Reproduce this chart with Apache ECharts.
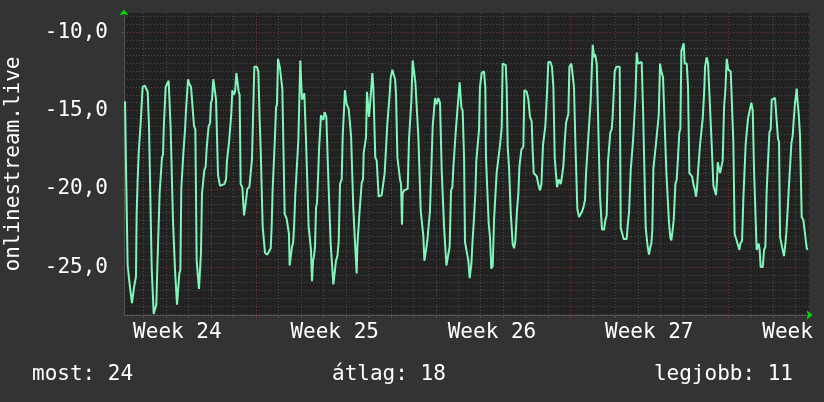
<!DOCTYPE html>
<html>
<head>
<meta charset="utf-8">
<script src="https://cdn.jsdelivr.net/npm/echarts@6/dist/echarts.min.js"></script>
<style>
html, body { margin: 0; background: #333333; }
#chart { width: 824px; height: 402px; }
</style>
</head>
<body>
<div id="chart"></div>
<script>
// hours from the left edge of the graph, and the rank at that time
var hours = [
  1.1,2.1,3.2,3.9,5.3,6.4,7.5,8.5,10.0,10.7,11.7,12.8,13.5,14.6,15.7,17.1,17.8,19.2,19.9,22.1,
  23.9,25.3,26.7,27.8,29.6,30.6,31.7,33.5,34.5,35.6,37.0,38.1,39.9,40.6,41.7,42.4,43.4,44.5,46.3,47.7,
  49.1,49.8,51.3,52.3,53.8,54.5,55.5,56.6,58.4,59.1,60.2,61.2,62.3,63.4,65.2,66.2,67.3,68.4,69.8,71.6,
  73.3,74.8,76.2,77.6,78.7,80.1,81.2,82.2,83.3,84.7,85.8,87.2,88.3,89.4,90.4,91.9,92.9,94.0,95.4,97.2,
  98.3,99.3,100.4,101.5,102.5,104.3,107.2,109.0,110.0,111.1,112.2,113.6,114.6,115.7,117.1,118.6,120.0,121.4,122.5,123.5,
  124.6,126.4,128.2,130.0,131.7,133.9,135.3,136.7,138.1,139.2,141.7,143.5,144.9,146.0,148.1,149.5,150.6,153.1,155.2,156.7,
  157.7,158.8,160.2,161.3,162.4,163.4,164.5,166.6,167.7,169.1,170.2,171.6,173.7,174.8,176.2,176.9,178.4,179.4,180.5,181.6,
  183.0,184.8,186.2,187.6,188.3,190.1,191.5,192.6,194.4,195.8,197.2,198.3,199.7,200.8,201.9,202.9,204.0,205.1,206.1,207.2,
  208.3,209.7,210.4,211.8,212.9,214.3,216.1,217.9,219.3,220.7,222.2,223.6,225.4,226.4,227.9,229.3,230.7,232.5,233.6,235.0,
  236.0,237.8,240.0,242.5,
  244.9,246.0,247.1,248.5,249.2,250.3,251.4,252.8,253.9,255.3,256.0,257.4,258.5,259.5,261.0,261.7,263.1,264.2,265.2,266.3,
  267.4,268.4,269.9,270.9,272.0,273.4,275.2,277.0,278.4,279.8,281.3,282.7,283.8,284.8,286.6,288.0,289.5,290.5,292.0,293.4,
  294.8,295.9,296.9,297.6,299.1,300.8,303.0,304.4,305.8,306.9,308.3,310.1,311.2,312.6,314.4,315.8,316.9,318.3,319.7,320.8,
  322.6,324.0,325.4,326.8,328.3,329.7,331.1,332.2,334.0,335.7,337.5,339.3,340.7,341.8,342.9,344.3,346.4,347.8,349.3,350.7,
  351.8,353.2,354.6,355.7,356.7,358.5,360.3,361.7,363.2,364.2,366.0,367.8,369.2,371.0,372.4,373.8,375.3,376.3,378.1,379.2,
  380.2,382.0,384.5,385.9,386.6,388.1,389.5,390.2,390.9,392.3,393.8,395.2,396.6,398.0,399.5,401.6,403.4,404.4,407.7,408.7,
  409.8,411.2,413.0,414.4,415.1,416.6,418.0,419.8,421.2,422.3,423.7,424.4,426.5,427.6,430.1,431.9,433.6,435.4,436.5,437.6,
  439.0,440.8,442.5,444.3,445.8,447.5,449.0,450.0,451.8,453.2,455.4,457.1,458.6,460.0,461.4,462.5,464.3,466.4,467.8,469.3,
  470.7,472.1,473.5,474.6,475.7,477.8,479.2,480.6,482.1,483.1,484.2,486.0,487.0,
  488.8,490.6,492.4,493.5,494.9,495.9,497.4,498.4,499.5,500.6,502.0,503.1,504.9,505.9,507.3,508.4,509.5,510.5,512.7,514.1,
  515.5,516.9,518.4,519.4,520.9,521.9,523.0,524.1,525.9,529.4,530.5,531.9,533.7,536.9,538.0,539.4,541.2,542.6,543.7,545.1,
  546.2,547.6,549.0,551.1,552.9,554.3,555.8,557.2,558.3,559.3,560.7,562.2,563.2,564.3,565.4,567.2,568.2,569.3,571.1,572.5,
  573.6,574.6,575.7,577.5,579.3,580.7,582.1,583.5,584.6,586.0,587.1,588.9,590.3,591.7,593.1,594.2,595.3,596.7,597.8,598.8,
  601.0,602.4,603.8,605.3,606.7,608.1,609.9,610.9,612.0,613.1,615.2,616.6,618.1,619.8,620.6,622.3,623.8,625.5,627.7,628.4,
  629.5,630.9,632.3,633.4,634.1,635.5,636.6,638.0,639.4,640.9,642.3,643.7,645.5,648.0,649.4,650.8,652.2,654.4,655.8,657.2,
  658.3,660.1,661.5,662.9,664.0,665.4,666.5,668.6,670.0,671.5,672.9,674.3,675.7,677.2,677.9,678.9,680.0,682.2,683.6,685.0,
  686.4,687.8,689.3,690.7,691.8,695.3,697.1,698.5,699.6,700.7,702.1,703.5,704.9,706.4,707.4,708.5,709.9,711.3,712.8,714.2,
  715.3,716.7,718.5,719.2,720.6,722.0,723.8,725.6,727.4,729.2,730.2
];
var rank = [
  14.4,18.5,18.6,24.9,25.0,26.3,26.4,27.3,27.3,26.3,26.2,25.6,21.6,19.4,17.7,17.6,15.8,15.7,13.5,13.4,
  13.5,13.8,16.0,16.1,25.1,25.2,28.0,28.0,27.4,25.0,25.0,20.2,20.1,18.0,17.8,16.2,16.1,13.5,13.4,13.1,
  13.1,16.1,16.2,22.0,22.1,25.2,25.3,27.4,27.5,25.4,25.2,20.0,19.9,17.7,16.2,15.0,15.0,13.0,13.3,13.5,
  13.6,16.0,16.2,24.6,24.6,26.4,26.3,24.1,20.3,20.2,18.8,18.6,17.4,17.3,16.0,15.8,14.5,14.3,13.0,13.0,
  14.3,14.4,19.1,19.2,19.8,19.7,19.7,19.4,18.2,18.1,17.0,16.9,15.2,13.7,14.0,13.8,12.6,12.6,13.8,14.0,
  19.7,19.9,21.7,20.9,20.0,19.9,19.8,18.1,18.0,12.2,12.2,12.5,15.6,17.5,22.4,22.5,24.1,24.2,24.1,23.8,
  22.4,20.0,19.9,16.6,14.8,14.6,11.7,12.3,12.4,13.6,13.7,21.6,21.9,22.0,22.9,24.9,24.9,23.7,23.5,22.5,
  20.3,20.2,16.9,16.9,11.8,14.3,14.3,13.9,16.9,17.0,22.4,22.5,23.9,25.9,24.6,24.3,23.7,21.2,20.9,19.4,
  17.5,17.4,15.3,15.4,15.6,15.1,15.4,18.8,18.9,23.5,23.6,26.1,26.1,24.6,24.3,23.4,19.7,19.4,16.6,16.5,
  13.7,14.6,14.9,16.6,
  21.2,21.3,23.9,25.4,23.7,23.6,21.6,21.5,19.6,19.4,17.7,17.6,16.7,13.8,13.8,15.4,15.4,13.5,12.6,13.5,
  13.6,18.0,18.2,19.3,20.5,20.6,20.4,20.3,19.0,19.0,15.8,15.7,13.9,12.9,12.4,12.7,13.0,13.9,18.0,18.1,
  19.4,19.7,22.3,20.3,20.1,20.0,20.0,16.8,16.7,14.4,11.8,11.8,13.2,13.3,16.7,16.8,21.4,21.5,23.0,24.6,
  23.9,23.3,23.2,21.4,18.6,16.0,15.9,14.2,14.6,14.2,14.5,18.8,18.9,22.4,22.4,24.9,24.8,23.7,20.1,19.9,
  18.6,18.5,16.1,16.1,14.5,13.2,14.8,15.0,18.0,23.4,23.5,24.6,25.7,24.8,23.2,21.9,20.2,18.2,18.1,16.2,
  13.5,12.6,12.5,13.5,18.0,18.1,22.2,22.2,23.1,25.1,24.9,22.0,22.0,19.0,18.9,17.2,16.1,12.0,12.1,13.5,
  17.3,18.6,21.5,21.6,23.5,23.8,23.3,21.3,20.3,18.6,18.6,17.5,17.3,13.7,13.8,14.3,15.4,15.7,17.6,19.0,
  19.0,19.2,19.7,20.1,19.7,17.2,17.1,16.0,13.9,11.9,11.9,12.2,13.5,18.0,18.0,19.9,19.4,19.7,19.2,18.5,
  17.0,15.8,15.7,15.2,12.2,12.0,12.1,13.5,17.1,17.2,21.3,21.8,21.8,
  21.5,21.2,20.7,19.0,18.9,16.7,16.6,14.4,14.3,10.8,11.6,11.4,12.0,14.4,14.4,20.5,20.6,22.6,22.6,22.0,
  21.7,18.3,18.2,16.4,16.2,15.4,15.3,12.5,12.2,12.2,22.5,22.5,23.2,23.2,22.3,21.5,18.8,18.7,16.9,16.8,
  14.2,11.3,12.0,11.9,11.9,14.8,14.9,22.5,22.6,23.7,24.2,23.7,23.5,22.6,18.7,18.6,17.1,17.0,15.3,12.0,
  12.4,12.5,12.9,13.0,19.0,19.1,22.2,23.1,23.3,22.6,22.0,19.7,19.4,18.0,16.4,16.2,11.2,11.3,10.7,12.0,
  12.0,13.5,19.0,19.1,19.2,19.7,20.1,20.5,20.0,18.9,17.2,17.2,15.5,13.6,12.2,11.6,12.0,12.0,17.2,17.3,
  19.8,19.8,20.4,19.4,18.3,18.4,19.0,18.6,18.2,14.8,13.7,11.7,12.4,12.5,12.6,17.0,22.9,23.3,23.6,23.9,
  23.5,23.3,20.6,20.5,17.1,17.0,15.5,15.5,14.5,15.0,18.8,18.9,23.9,24.0,23.5,23.9,25.0,25.0,23.9,23.7,
  20.1,20.0,16.4,16.2,14.3,14.2,14.2,16.8,17.0,23.1,23.2,23.9,24.3,23.5,22.8,21.7,20.1,20.0,17.1,16.6,
  15.6,14.5,13.6,14.3,15.2,16.6,21.8,22.0,22.9,23.8,23.9
];

var weekNames = ['Week 24', 'Week 25', 'Week 26', 'Week 27', 'Week 28'];
var weekMid = [57, 225, 393, 561, 729];     // label positions (hours)
var weekStart = [141, 309, 477, 645];       // major grid (hours)
var yLabels = [-25, -20, -15, -10];
var legendTexts = ['most: 24', 'átlag: 18', 'legjobb: 11'];

var xMin = 0, xMax = 731.6;
var yMin = -28.06, yMax = -8.77;
var font = 'DejaVu Sans Mono';

var dayLines = [];
for (var h = 21; h < xMax; h += 24) dayLines.push(h);
var halfLines = [];
for (var v = -28; v <= -9; v += 0.5) halfLines.push(v);

var points = hours.map(function (t, i) { return [t, -rank[i]]; });

var minorLine = { color: '#4a4a4a', width: 1, type: [1, 2] };
var majorLine = { color: '#7a3434', width: 1, type: [1, 2] };
var txt = { color: '#ffffff', fontFamily: font, fontSize: 21 };
var legendStyle = { color: '#fff', fontFamily: font, fontSize: 21, fontWeight: 'normal' };

var option = {
    backgroundColor: '#333333',
    animation: false,
    grid: {
        left: 124, right: 15, top: 13, bottom: 87,
        show: true, backgroundColor: '#222222', borderWidth: 0,
        outerBoundsMode: 'none'
    },
    title: [
        { text: legendTexts[0], left: 32, top: 364, padding: 0, textStyle: legendStyle },
        { text: legendTexts[1], left: 332, top: 364, padding: 0, textStyle: legendStyle },
        { text: legendTexts[2], right: 31, top: 364, padding: 0, textStyle: legendStyle }
    ],
    xAxis: [
        {
            type: 'value', min: xMin, max: xMax, position: 'bottom',
            axisLine: { show: true, onZero: false, lineStyle: { color: '#555555' } },
            axisTick: { show: true, customValues: dayLines, length: 3, lineStyle: { color: '#555555' } },
            axisLabel: {
                customValues: weekMid, margin: 7, color: txt.color, fontFamily: font, fontSize: 21,
                formatter: function (val) { return weekNames[weekMid.indexOf(val)]; }
            },
            splitLine: { show: true, lineStyle: minorLine }
        },
        {
            type: 'value', min: xMin, max: xMax, position: 'bottom',
            axisLine: { show: false },
            axisTick: { show: true, customValues: weekStart, length: 3, lineStyle: { color: '#7a3434' } },
            axisLabel: { show: false },
            splitLine: { show: true, lineStyle: majorLine }
        },
        {
            type: 'value', min: xMin, max: xMax, position: 'bottom',
            axisLine: { show: true, onZero: false, symbol: ['none', 'arrow'], symbolSize: [7, 6], symbolOffset: [0, 3.5],
                lineStyle: { color: '#00dd00', width: 0 } },
            axisTick: { show: false }, axisLabel: { show: false }, splitLine: { show: false }
        }
    ],
    yAxis: [
        {
            type: 'value', min: yMin, max: yMax, position: 'left',
            name: 'onlinestream.live', nameLocation: 'middle', nameGap: 100, nameRotate: 90,
            nameTextStyle: txt,
            axisLine: { show: true, onZero: false, lineStyle: { color: '#555555' } },
            axisTick: { show: false, customValues: halfLines },
            axisLabel: {
                customValues: yLabels, margin: 16, color: txt.color, fontFamily: font, fontSize: 21,
                formatter: function (val) { return val.toFixed(1).replace('.', ','); }
            },
            splitLine: { show: true, lineStyle: minorLine }
        },
        {
            type: 'value', min: yMin, max: yMax, position: 'left',
            axisLine: { show: false },
            axisTick: { show: true, customValues: yLabels, length: 3, lineStyle: { color: '#7a3434' } },
            axisLabel: { show: false },
            splitLine: { show: true, lineStyle: majorLine }
        },
        {
            type: 'value', min: yMin, max: yMax, position: 'left',
            axisLine: { show: true, onZero: false, symbol: ['none', 'arrow'], symbolSize: [7, 6], symbolOffset: [0, 3.5],
                lineStyle: { color: '#00dd00', width: 0 } },
            axisTick: { show: false }, axisLabel: { show: false }, splitLine: { show: false }
        }
    ],
    series: [
        {
            type: 'line', xAxisIndex: 0, yAxisIndex: 0,
            data: points, showSymbol: false, symbol: 'none',
            lineStyle: { color: '#80f5bc', width: 2 },
            z: 10
        }
    ]
};

var chart = echarts.init(document.getElementById('chart'));
chart.setOption(option);
</script>
</body>
</html>
